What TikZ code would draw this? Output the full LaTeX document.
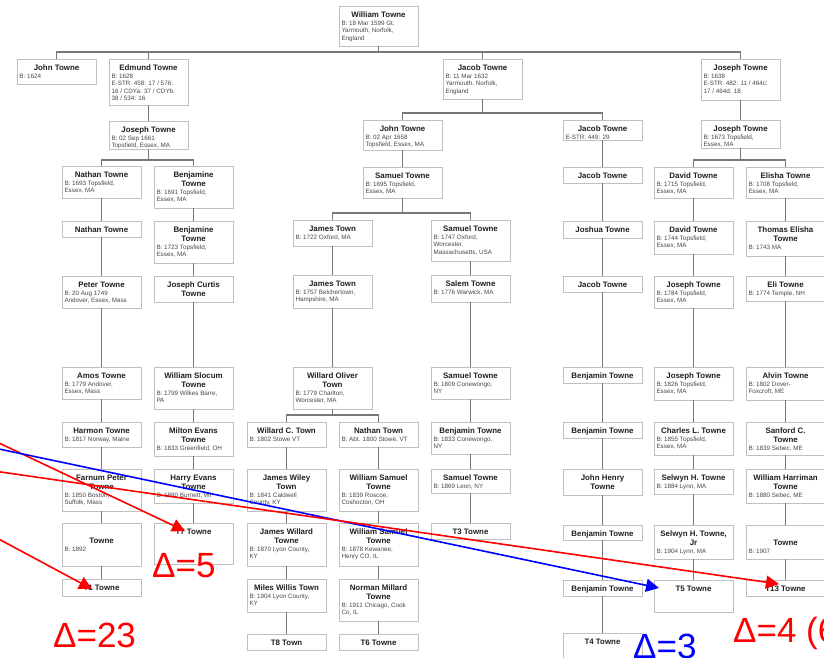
\documentclass[tikz,border=0pt]{standalone}
\usepackage{fontspec}
\setmainfont{Liberation Sans}
\usetikzlibrary{arrows.meta,shadows,calc}
\definecolor{bordergray}{RGB}{192,192,192}
\definecolor{linegray}{RGB}{120,120,120}
\definecolor{dred}{RGB}{255,0,0}
\definecolor{dblue}{RGB}{0,0,255}
\newcommand\ti[1]{{\centering\bfseries\fontsize{7.9}{9.3}\selectfont\rule{0pt}{11.3pt}#1\par}}
\newcommand\de[1]{\vspace{0.3pt}{\raggedright\color{black!72}\fontsize{6.3}{7.5}\selectfont #1\par}}
\newcommand\bx[5]{\node[pbox] (#1) at (#2,#3) {\parbox[c][#4pt][t]{74pt}{#5}};}
\tikzset{
  pbox/.style={draw=bordergray, fill=white, line width=0.8pt, inner xsep=2.5pt, inner ysep=0pt,
    outer sep=0pt, anchor=north west, text=black!88,
    drop shadow={shadow xshift=1pt, shadow yshift=-1pt, fill=black!30, opacity=1}},
  conn/.style={draw=linegray, line width=1.3pt},
  arr/.style={line width=1.6pt, -{Triangle[length=13pt,width=13pt]}},
  dlab/.style={anchor=base west, inner sep=0pt, font=\fontsize{35}{40}\selectfont}
}
\begin{document}
\begin{tikzpicture}[x=1pt,y=-1pt]
\useasboundingbox (0,0) rectangle (824,657);
\clip (0,0) rectangle (824,657);
\fill[white] (0,0) rectangle (824,657);
% row 0
\bx{william}{339}{6}{40}{\ti{William Towne}\de{B: 18 Mar 1599 Gt.\\Yarmouth, Norfolk,\\England}}
% row 1
\bx{john1}{17}{59}{25}{\ti{John Towne}\de{B: 1624}}
\bx{edmund}{109}{59}{46}{\ti{Edmund Towne}\de{B: 1628\\E-STR: 458: 17 / 576:\\16 / CDYa: 37 / CDYb:\\38 / 534: 16}}
\bx{jacob1}{443}{59}{40}{\ti{Jacob Towne}\de{B: 11 Mar 1632\\Yarmouth, Norfolk,\\England}}
\bx{joseph1}{701}{59}{41}{\ti{Joseph Towne}\de{B: 1638\\E-STR: 482: 11 / 464c:\\17 / 464d: 18}}
% row 2
\bx{joseph2}{109}{121}{28}{\ti{Joseph Towne}\de{B: 02 Sep 1661\\Topsfield, Essex, MA}}
\bx{john2}{363}{120}{30}{\ti{John Towne}\de{B: 02 Apr 1658\\Topsfield, Essex, MA}}
\bx{jacob2}{563}{120}{20}{\ti{Jacob Towne}\de{E-STR: 449: 29}}
\bx{joseph3}{701}{120}{28}{\ti{Joseph Towne}\de{B: 1673 Topsfield,\\Essex, MA}}
% row 3
\bx{nathan1}{62}{166}{32}{\ti{Nathan Towne}\de{B: 1693 Topsfield,\\Essex, MA}}
\bx{benj1}{154}{166}{42}{\ti{Benjamine\\Towne}\de{B: 1691 Topsfield,\\Essex, MA}}
\bx{samuel1}{363}{167}{31}{\ti{Samuel Towne}\de{B: 1695 Topsfield,\\Essex, MA}}
\bx{jacob3}{563}{167}{16}{\ti{Jacob Towne}}
\bx{david1}{654}{167}{31}{\ti{David Towne}\de{B: 1715 Topsfield,\\Essex, MA}}
\bx{elisha1}{746}{167}{31}{\ti{Elisha Towne}\de{B: 1708 Topsfield,\\Essex, MA}}
% row 4
\bx{nathan2}{62}{221}{16}{\ti{Nathan Towne}}
\bx{benj2}{154}{221}{42}{\ti{Benjamine\\Towne}\de{B: 1723 Topsfield,\\Essex, MA}}
\bx{james1}{293}{220}{26}{\ti{James Town}\de{B: 1722 Oxford, MA}}
\bx{samuel2}{431}{220}{41}{\ti{Samuel Towne}\de{B: 1747 Oxford,\\Worcester,\\Massachusetts, USA}}
\bx{joshua}{563}{221}{17}{\ti{Joshua Towne}}
\bx{david2}{654}{221}{33}{\ti{David Towne}\de{B: 1744 Topsfield,\\Essex, MA}}
\bx{thomas}{746}{221}{35}{\ti{Thomas Elisha\\Towne}\de{B: 1743 MA}}
% row 5
\bx{peter}{62}{276}{32}{\ti{Peter Towne}\de{B: 20 Aug 1749\\Andover, Essex, Mass}}
\bx{josephc}{154}{276}{26}{\ti{Joseph Curtis\\Towne}}
\bx{james2}{293}{275}{33}{\ti{James Town}\de{B: 1757 Belchertown,\\Hampshire, MA}}
\bx{salem}{431}{275}{27}{\ti{Salem Towne}\de{B: 1776 Warwick, MA}}
\bx{jacob4}{563}{276}{16}{\ti{Jacob Towne}}
\bx{joseph4}{654}{276}{32}{\ti{Joseph Towne}\de{B: 1784 Topsfield,\\Essex, MA}}
\bx{eli}{746}{276}{25}{\ti{Eli Towne}\de{B: 1774 Temple, NH}}
% row 6
\bx{amos}{62}{367}{32}{\ti{Amos Towne}\de{B: 1779 Andover,\\Essex, Mass}}
\bx{william2}{154}{367}{42}{\ti{William Slocum\\Towne}\de{B: 1799 Wilkes Barre,\\PA}}
\bx{willard}{293}{367}{42}{\ti{Willard Oliver\\Town}\de{B: 1779 Charlton,\\Worcester, MA}}
\bx{samuel3}{431}{367}{32}{\ti{Samuel Towne}\de{B: 1809 Conewongo,\\NY}}
\bx{benja1}{563}{367}{16}{\ti{Benjamin Towne}}
\bx{joseph5}{654}{367}{33}{\ti{Joseph Towne}\de{B: 1826 Topsfield,\\Essex, MA}}
\bx{alvin}{746}{367}{33}{\ti{Alvin Towne}\de{B: 1802 Dover-\\Foxcroft, ME}}
% row 7
\bx{harmon}{62}{422}{25}{\ti{Harmon Towne}\de{B: 1817 Norway, Maine}}
\bx{milton}{154}{422}{34}{\ti{Milton Evans\\Towne}\de{B: 1833 Greenfield, OH}}
\bx{willardc}{247}{422}{25}{\ti{Willard C. Town}\de{B: 1802 Stowe VT}}
\bx{nathant}{339}{422}{25}{\ti{Nathan Town}\de{B: Abt. 1800 Stowe, VT}}
\bx{benja2}{431}{422}{32}{\ti{Benjamin Towne}\de{B: 1833 Conewongo,\\NY}}
\bx{benja3}{563}{422}{16}{\ti{Benjamin Towne}}
\bx{charles}{654}{422}{33}{\ti{Charles L. Towne}\de{B: 1855 Topsfield,\\Essex, MA}}
\bx{sanford}{746}{422}{33}{\ti{Sanford C.\\Towne}\de{B: 1839 Sebec, ME}}
% row 8
\bx{farnum}{62}{469}{42}{\ti{Farnum Peter\\Towne}\de{B: 1850 Boston,\\Suffolk, Mass}}
\bx{harry}{154}{469}{34}{\ti{Harry Evans\\Towne}\de{B: 1880 Burnett, WI}}
\bx{jamesw}{247}{469}{42}{\ti{James Wiley\\Town}\de{B: 1841 Caldwell\\County, KY}}
\bx{williams1}{339}{469}{42}{\ti{William Samuel\\Towne}\de{B: 1839 Roscoe,\\Coshocton, OH}}
\bx{samuel4}{431}{469}{24}{\ti{Samuel Towne}\de{B: 1869 Leon, NY}}
\bx{johnh}{563}{469}{26}{\ti{John Henry\\Towne}}
\bx{selwyn1}{654}{469}{25}{\ti{Selwyn H. Towne}\de{B: 1884 Lynn, MA}}
\bx{williamh}{746}{469}{34}{\ti{William Harriman\\Towne}\de{B: 1880 Sebec, ME}}
% row 9
\bx{towne1}{62}{523}{43}{\ti{\mbox{}\\Towne}\de{B: 1892}}
\bx{t7}{154}{523}{41}{\ti{T7 Towne}}
\bx{jameswi}{247}{523}{43}{\ti{James Willard\\Towne}\de{B: 1870 Lyon County,\\KY}}
\bx{williams2}{339}{523}{43}{\ti{William Samuel\\Towne}\de{B: 1878 Kewanee,\\Henry CO, IL}}
\bx{t3}{431}{523}{16}{\ti{T3 Towne}}
\bx{benja4}{563}{525}{15}{\ti{Benjamin Towne}}
\bx{selwyn2}{654}{525}{34}{\ti{Selwyn H. Towne,\\Jr}\de{B: 1904 Lynn, MA}}
\bx{towne2}{746}{525}{34}{\ti{\mbox{}\\Towne}\de{B: 1907}}
% row 10
\bx{t1}{62}{579}{17}{\ti{T1 Towne}}
\bx{miles}{247}{579}{33}{\ti{Miles Willis Town}\de{B: 1904 Lyon County,\\KY}}
\bx{norman}{339}{579}{42}{\ti{Norman Millard\\Towne}\de{B: 1911 Chicago, Cook\\Co, IL}}
\bx{benja5}{563}{580}{16}{\ti{Benjamin Towne}}
\bx{t5}{654}{580}{32}{\ti{T5 Towne}}
\bx{t13}{746}{580}{16}{\ti{T13 Towne}}
% row 11
\bx{t8}{247}{634}{16}{\ti{T8 Town}}
\bx{t6}{339}{634}{16}{\ti{T6 Towne}}
\bx{t4}{563}{633}{30}{\ti{T4 Towne}}
% bars
\coordinate (bar0) at (0,52);
\coordinate (bar1) at (0,113);
\coordinate (bar2) at (0,160);
\coordinate (bar3) at (0,213);
\coordinate (bar4) at (0,415);
\draw[conn] (john1.north) -- (john1.north |- bar0) -- (joseph1.north |- bar0) -- (joseph1.north);
\draw[conn] (william.south) -- (william.south |- bar0);
\draw[conn] (edmund.north) -- (edmund.north |- bar0);
\draw[conn] (jacob1.north) -- (jacob1.north |- bar0);
\draw[conn] (jacob1.south) -- (jacob1.south |- bar1);
\draw[conn] (john2.north) -- (john2.north |- bar1) -- (jacob2.north |- bar1) -- (jacob2.north);
\draw[conn] (joseph2.south) -- (joseph2.south |- bar2);
\draw[conn] (nathan1.north) -- (nathan1.north |- bar2) -- (benj1.north |- bar2) -- (benj1.north);
\draw[conn] (joseph3.south) -- (joseph3.south |- bar2);
\draw[conn] (david1.north) -- (david1.north |- bar2) -- (elisha1.north |- bar2) -- (elisha1.north);
\draw[conn] (samuel1.south) -- (samuel1.south |- bar3);
\draw[conn] (james1.north) -- (james1.north |- bar3) -- (samuel2.north |- bar3) -- (samuel2.north);
\draw[conn] (willard.south) -- (willard.south |- bar4);
\draw[conn] (willardc.north) -- (willardc.north |- bar4) -- (nathant.north |- bar4) -- (nathant.north);
% chains
\foreach \a/\b in {edmund/joseph2, joseph1/joseph3, john2/samuel1, jacob2/jacob3,
  nathan1/nathan2, nathan2/peter, peter/amos, amos/harmon, harmon/farnum, farnum/towne1, towne1/t1,
  benj1/benj2, benj2/josephc, josephc/william2, william2/milton, milton/harry, harry/t7,
  james1/james2, james2/willard,
  willardc/jamesw, jamesw/jameswi, jameswi/miles, miles/t8,
  nathant/williams1, williams1/williams2, williams2/norman, norman/t6,
  samuel2/salem, salem/samuel3, samuel3/benja2, benja2/samuel4, samuel4/t3,
  jacob3/joshua, joshua/jacob4, jacob4/benja1, benja1/benja3, benja3/johnh, johnh/benja4, benja4/benja5, benja5/t4,
  david1/david2, david2/joseph4, joseph4/joseph5, joseph5/charles, charles/selwyn1, selwyn1/selwyn2, selwyn2/t5,
  elisha1/thomas, thomas/eli, eli/alvin, alvin/sanford, sanford/williamh, williamh/towne2, towne2/t13}
  \draw[conn] (\a.south) -- (\b.north);
% annotation arrows
\coordinate (s1) at (-20,434);
\coordinate (e1) at (185,531);
\coordinate (s2) at (-20,445);
\coordinate (e2) at (659,588);
\coordinate (s3) at (-20,469);
\coordinate (e3) at (779,584);
\coordinate (s4) at (-20,529);
\coordinate (e4) at (92,589);
\draw[arr, dred] (s1) -- (e1);
\draw[arr, dblue] (s2) -- (e2);
\draw[arr, dred] (s3) -- (e3);
\draw[arr, dred] (s4) -- (e4);
\node[dlab, text=dred] (d5) at (152,577) {Δ=5};
\node[dlab, text=dred] (d23) at (53,647) {Δ=23};
\node[dlab, text=dblue] (d3) at (633,658) {Δ=3};
\node[dlab, text=dred] (d4) at (733,642) {Δ=4 (6)};
\end{tikzpicture}
\end{document}
